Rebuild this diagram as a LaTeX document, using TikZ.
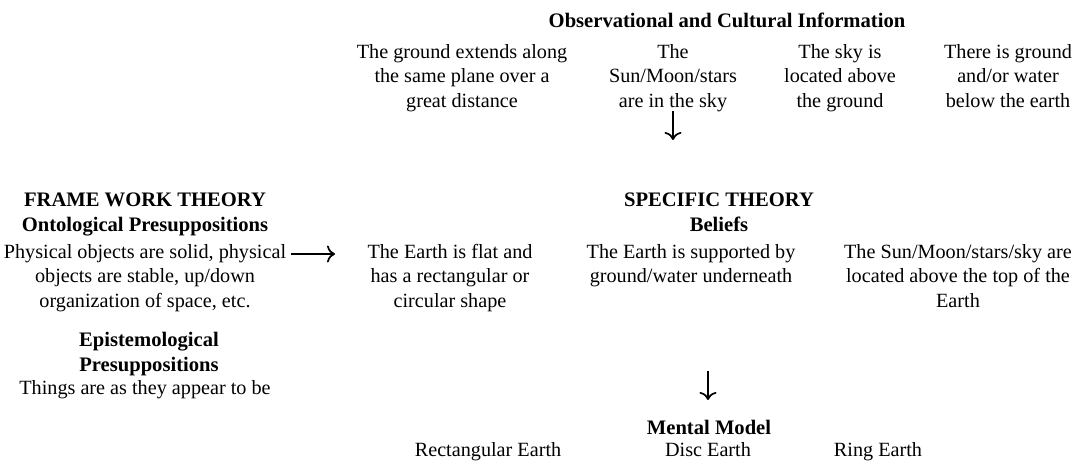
\documentclass[tikz,border=0pt]{standalone}
\usepackage{fontspec}
\setmainfont{Liberation Serif}
\usetikzlibrary{arrows.meta}
\begin{document}
\begin{tikzpicture}[x=1pt,y=-1pt,
  txt/.style={inner sep=0pt, align=center, font=\fontsize{20.2}{24.5}\selectfont},
  hd/.style={inner sep=0pt, align=center, font=\fontsize{20.6}{24.5}\selectfont\bfseries},
  arr/.style={line width=1.7pt, -{To[length=8pt,width=17pt]}}]
\useasboundingbox (0,0) rectangle (1088,465);
% top
\node[hd] (obs) at (727,20) {Observational and Cultural Information};
\node[txt] (o1) at (462,78) {\strut The ground extends along\\the same plane over a\\great distance\strut};
\node[txt] (o2) at (673,78) {\strut The\\Sun/Moon/stars\\are in the sky\strut};
\node[txt] (o3) at (840,78) {\strut The sky is\\located above\\the ground\strut};
\node[txt] (o4) at (1008,78) {\strut There is ground\\and/or water\\below the earth\strut};
% left
\node[hd] (fw) at (145,214) {\strut FRAME WORK THEORY\\Ontological Presuppositions\strut};
\node[txt] (fwt) at (145,278) {\strut Physical objects are solid, physical\\objects are stable, up/down\\organization of space, etc.\strut};
\node[hd] (ep) at (149,354) {\strut Epistemological\\Presuppositions\strut};
\node[txt] (ept) at (145,390) {Things are as they appear to be};
% specific theory
\node[hd] (sp) at (719,214) {\strut SPECIFIC THEORY\\Beliefs\strut};
\node[txt] (b1) at (450,278) {\strut The Earth is flat and\\has a rectangular or\\circular shape\strut};
\node[txt] (b2) at (691,265.75) {\strut The Earth is supported by\\ground/water underneath\strut};
\node[txt] (b3) at (958,278) {\strut The Sun/Moon/stars/sky are\\located above the top of the\\Earth\strut};
% mental model
\node[hd] (mm) at (709,427) {Mental Model};
\node[txt] (m1) at (488,452) {Rectangular Earth};
\node[txt] (m2) at (708,450) {Disc Earth};
\node[txt] (m3) at (878,452) {Ring Earth};
% arrows
\coordinate (u1) at (673,111);
\coordinate (u2) at (673,140);
\draw[arr] (u1) -- (u2);
\coordinate (h1) at (291,254);
\coordinate (h2) at (335,254);
\draw[arr] (h1) -- (h2);
\coordinate (d1) at (708,371);
\coordinate (d2) at (708,400);
\draw[arr] (d1) -- (d2);
\end{tikzpicture}
\end{document}
